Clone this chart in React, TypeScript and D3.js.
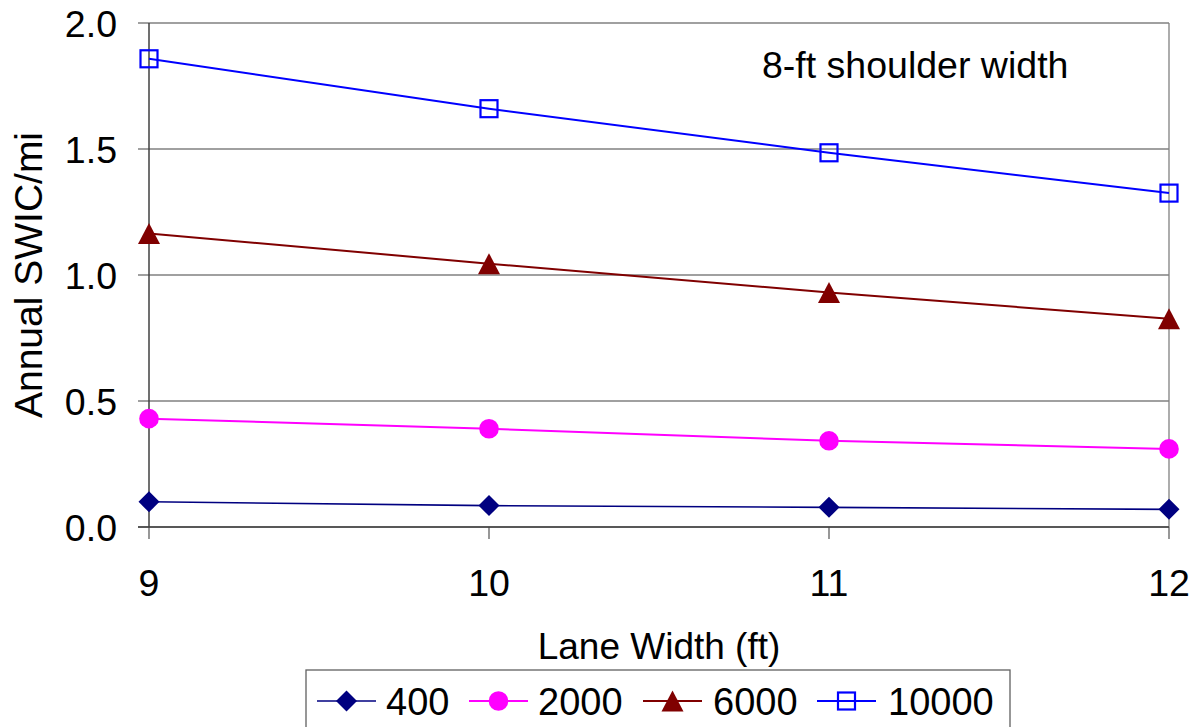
import React from "react";
import * as d3 from "d3";

const laneWidths = [9, 10, 11, 12];
const seriesNames = ["400", "2000", "6000", "10000"];
const values400 = [0.10, 0.085, 0.078, 0.07];
const values2000 = [0.43, 0.39, 0.342, 0.31];
const values6000 = [1.165, 1.045, 0.931, 0.826];
const values10000 = [1.858, 1.66, 1.485, 1.325];
const yTicks = [0, 0.5, 1.0, 1.5, 2.0];
const xTicks = [9, 10, 11, 12];

const W = 1197;
const H = 727;
const FONT = "'Liberation Sans', Arial, Helvetica, sans-serif";

type Shape = "diamond" | "circle" | "triangle" | "square";
const seriesStyles: { color: string; shape: Shape; width: number }[] = [
  { color: "#000080", shape: "diamond", width: 1.6 },
  { color: "#FF00FF", shape: "circle", width: 2 },
  { color: "#800000", shape: "triangle", width: 2 },
  { color: "#0000FF", shape: "square", width: 2 },
];

function Marker({ x, y, shape, color }: { x: number; y: number; shape: Shape; color: string }) {
  if (shape === "diamond") {
    const r = 10.5;
    return <path d={`M${x},${y - r}L${x + r},${y}L${x},${y + r}L${x - r},${y}Z`} fill={color} />;
  }
  if (shape === "circle") {
    return <circle cx={x} cy={y} r={9.8} fill={color} />;
  }
  if (shape === "triangle") {
    const hw = 11, hh = 10.5;
    return <path d={`M${x},${y - hh}L${x + hw},${y + hh}L${x - hw},${y + hh}Z`} fill={color} />;
  }
  const s = 8.5;
  return <rect x={x - s} y={y - s} width={2 * s} height={2 * s} fill="none" stroke={color} strokeWidth={2.2} />;
}

export default function App() {
  const x = d3.scaleLinear().domain([9, 12]).range([149, 1169]);
  const y = d3.scaleLinear().domain([0, 2]).range([527, 23]);
  const allSeries = [values400, values2000, values6000, values10000];
  const line = d3
    .line<number>()
    .x((_, i) => x(laneWidths[i]))
    .y((d) => y(d));

  const legendX = [317, 469, 643, 817];
  const legendTextX = [386, 538, 713, 888];
  const legendY = 701;

  return (
    <svg
      width={W}
      height={H}
      style={{ position: "absolute", left: 0, top: 0, background: "#fff" }}
      fontFamily={FONT}
    >
      <rect x={0} y={0} width={W} height={H} fill="#fff" />
      {/* gridlines */}
      {yTicks.map((t) => (
        <line key={"g" + t} x1={138} x2={1169} y1={y(t)} y2={y(t)} stroke="#808080" strokeWidth={1.3} />
      ))}
      {/* right border */}
      <line x1={1169} x2={1169} y1={y(2)} y2={y(0)} stroke="#808080" strokeWidth={1.3} />
      {/* x ticks */}
      {xTicks.map((t) => (
        <line key={"xt" + t} x1={x(t)} x2={x(t)} y1={y(0)} y2={y(0) + 12} stroke="#606060" strokeWidth={1.3} />
      ))}
      {/* axes */}
      <line x1={x(9)} x2={x(9)} y1={y(2)} y2={y(0)} stroke="#404040" strokeWidth={1.5} />
      <line x1={138} x2={1169} y1={y(0)} y2={y(0)} stroke="#404040" strokeWidth={1.5} />
      {/* y tick labels */}
      {yTicks.map((t) => (
        <text key={"yl" + t} x={117} y={y(t)} dy="0.36em" textAnchor="end" fontSize={37.5} fill="#000">
          {d3.format(".1f")(t)}
        </text>
      ))}
      {/* x tick labels */}
      {xTicks.map((t) => (
        <text key={"xl" + t} x={x(t)} y={596} textAnchor="middle" fontSize={37.5} fill="#000">
          {t}
        </text>
      ))}
      {/* axis titles */}
      <text x={659} y={659} textAnchor="middle" fontSize={37} fill="#000">
        Lane Width (ft)
      </text>
      <text
        transform={`translate(42, ${(y(0) + y(2)) / 2}) rotate(-90)`}
        textAnchor="middle"
        fontSize={39}
        fill="#000"
      >
        Annual SWIC/mi
      </text>
      {/* annotation */}
      <text x={762} y={78} fontSize={37.5} fill="#000">
        8-ft shoulder width
      </text>
      {/* series */}
      {allSeries.map((vals, si) => (
        <g key={"s" + si}>
          <path d={line(vals) || ""} fill="none" stroke={seriesStyles[si].color} strokeWidth={seriesStyles[si].width} />
          {vals.map((v, i) => (
            <Marker key={i} x={x(laneWidths[i])} y={y(v)} shape={seriesStyles[si].shape} color={seriesStyles[si].color} />
          ))}
        </g>
      ))}
      {/* legend */}
      <rect x={306} y={670} width={704} height={70} fill="#fff" stroke="#606060" strokeWidth={1.3} />
      {seriesNames.map((name, i) => (
        <g key={"l" + name}>
          <line
            x1={legendX[i]}
            x2={legendX[i] + 59}
            y1={legendY}
            y2={legendY}
            stroke={seriesStyles[i].color}
            strokeWidth={seriesStyles[i].width}
          />
          <Marker x={legendX[i] + 29.5} y={legendY} shape={seriesStyles[i].shape} color={seriesStyles[i].color} />
          <text x={legendTextX[i]} y={legendY} dy="0.36em" fontSize={38} fill="#000">
            {name}
          </text>
        </g>
      ))}
    </svg>
  );
}
